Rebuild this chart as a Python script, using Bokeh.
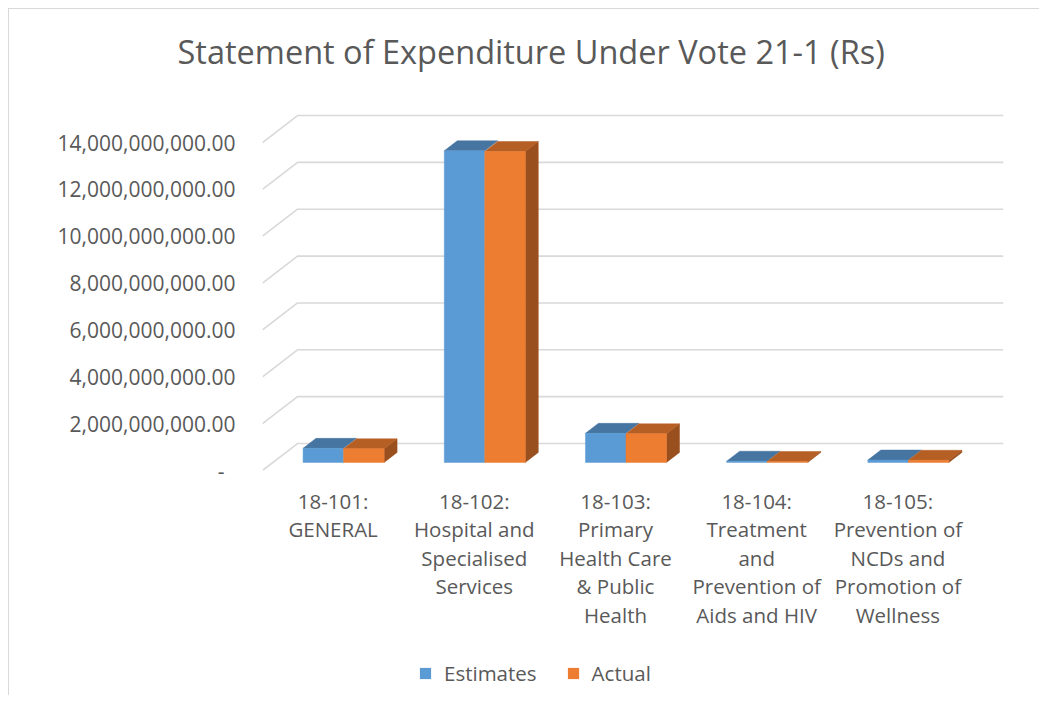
from bokeh.plotting import figure
from bokeh.models import FixedTicker, Range1d, Legend, LegendItem
from bokeh.layouts import column
from bokeh.embed import file_html
from bokeh.resources import INLINE

# ---- data ----
categories = [
    ["18-101:", "GENERAL"],
    ["18-102:", "Hospital and", "Specialised", "Services"],
    ["18-103:", "Primary", "Health Care", "& Public", "Health"],
    ["18-104:", "Treatment", "and", "Prevention of", "Aids and HIV"],
    ["18-105:", "Prevention of", "NCDs and", "Promotion of", "Wellness"],
]
estimates = [0.60e9, 13.30e9, 1.24e9, 0.05e9, 0.10e9]
actual = [0.58e9, 13.27e9, 1.22e9, 0.04e9, 0.09e9]
y_ticks = [0, 2e9, 4e9, 6e9, 8e9, 10e9, 12e9, 14e9]
series_names = ["Estimates", "Actual"]

# ---- style / 3D geometry ----
FONT = "Open Sans"
TXT = "#595959"
GRID = "#D9D9D9"
DEPTH_X = 0.248          # back-wall offset, in category units
DEPTH_Y = 1.152e9        # back-wall offset, in value units
F0, F1 = 0.30, 0.67      # bar depth position (fraction of depth)
BAR_W = 0.287
front_cols = ["#5B9BD5", "#ED7D31"]
top_cols = ["#4675A2", "#B65F24"]
side_cols = ["#41719C", "#9A4F1E"]

n = len(categories)
x_end = n + DEPTH_X
y_end = 16.22e9

p = figure(width=1030, height=636, output_backend="svg", toolbar_location=None,
           x_range=Range1d(0, x_end), y_range=Range1d(0, y_end),
           min_border_left=253, min_border_right=36, min_border_top=81,
           min_border_bottom=175)
p.outline_line_color = None
p.xgrid.visible = False
p.ygrid.visible = False
p.background_fill_color = "white"

# gridlines: left wall diagonals + back wall horizontals
gx, gy = [], []
for v in y_ticks:
    gx.append([0, DEPTH_X, x_end])
    gy.append([v, v + DEPTH_Y, v + DEPTH_Y])
p.multi_line(gx, gy, line_color=GRID, line_width=1.6)

# bars
for s, vals in enumerate([estimates, actual]):
    fl, fr, fb, ft = [], [], [], []
    txs, tys, sxs, sys_ = [], [], [], []
    for i, v in enumerate(vals):
        c = i + 0.5
        x0 = c - BAR_W + s * BAR_W
        x1 = x0 + BAR_W
        ox0, oy0 = F0 * DEPTH_X, F0 * DEPTH_Y
        ox1, oy1 = F1 * DEPTH_X, F1 * DEPTH_Y
        fl.append(x0 + ox0); fr.append(x1 + ox0); fb.append(oy0); ft.append(v + oy0)
        txs.append([x0 + ox0, x1 + ox0, x1 + ox1, x0 + ox1])
        tys.append([v + oy0, v + oy0, v + oy1, v + oy1])
        sxs.append([x1 + ox0, x1 + ox1, x1 + ox1, x1 + ox0])
        sys_.append([oy0, oy1, v + oy1, v + oy0])
    if s == 1:
        p.patches(sxs, sys_, fill_color=side_cols[s], line_color=side_cols[s], line_width=0.5)
    p.patches(txs, tys, fill_color=top_cols[s], line_color=top_cols[s], line_width=0.5)
    p.quad(left=fl, right=fr, bottom=fb, top=ft, fill_color=front_cols[s],
           line_color=front_cols[s], line_width=0.5)

# axes
p.yaxis.ticker = FixedTicker(ticks=y_ticks)
p.yaxis.major_label_overrides = {v: (f"{v:,.2f}" if v else "-  ") for v in y_ticks}
p.yaxis.axis_line_color = None
p.yaxis.major_tick_line_color = None
p.yaxis.minor_tick_line_color = None
p.yaxis.major_tick_out = 0
p.yaxis.major_tick_in = 0
p.yaxis.minor_tick_out = 0
p.yaxis.major_label_standoff = 27
p.yaxis.major_label_text_font = FONT
p.yaxis.major_label_text_font_size = "21px"
p.yaxis.major_label_text_color = TXT

xt = [i + 0.5 for i in range(n)]
p.xaxis.ticker = FixedTicker(ticks=xt)
p.xaxis.major_label_overrides = {t: "\n".join(lbl) for t, lbl in zip(xt, categories)}
p.xaxis.axis_line_color = None
p.xaxis.major_tick_line_color = None
p.xaxis.minor_tick_line_color = None
p.xaxis.major_tick_out = 0
p.xaxis.major_tick_in = 0
p.xaxis.minor_tick_out = 0
p.xaxis.major_label_standoff = 16
p.xaxis.major_label_text_font = FONT
p.xaxis.major_label_text_font_size = "20.5px"
p.xaxis.major_label_text_color = TXT
p.xaxis.major_label_text_line_height = 1.02

# title
p.title.text = "Statement of Expenditure Under Vote 21-1 (Rs)"
p.title.text_font = FONT
p.title.text_font_size = "32.5px"
p.title.text_font_style = "normal"
p.title.text_color = TXT
p.title.align = "left"
p.title.offset = -85
p.title.standoff = 34

# legend strip
lg = figure(width=1030, height=50, output_backend="svg", toolbar_location=None,
            x_range=Range1d(0, 1), y_range=Range1d(0, 1),
            x_axis_location=None, y_axis_location=None,
            min_border=0)
lg.outline_line_color = None
lg.xgrid.visible = False
lg.ygrid.visible = False
items = []
for s in range(2):
    # zero-area swatch carrier: only its legend glyph is visible
    r = lg.quad(left=[0], right=[0], bottom=[0], top=[0], fill_color=front_cols[s], line_color=None)
    items.append(LegendItem(label=series_names[s], renderers=[r]))
legend = Legend(items=items, orientation="horizontal", location=(156, 8),
                label_text_font=FONT, label_text_font_size="20.5px", label_text_color=TXT,
                glyph_width=14, glyph_height=14, label_standoff=12, spacing=29,
                padding=0, margin=0, border_line_color=None, background_fill_alpha=0)
lg.add_layout(legend, "center")

layout = column(p, lg, spacing=0)
layout.styles = {"margin-left": "8px", "margin-top": "8px",
                 "border-left": "1px solid #D9D9D9", "border-top": "1px solid #D9D9D9"}

open("out.html", "w").write(file_html(layout, INLINE))
